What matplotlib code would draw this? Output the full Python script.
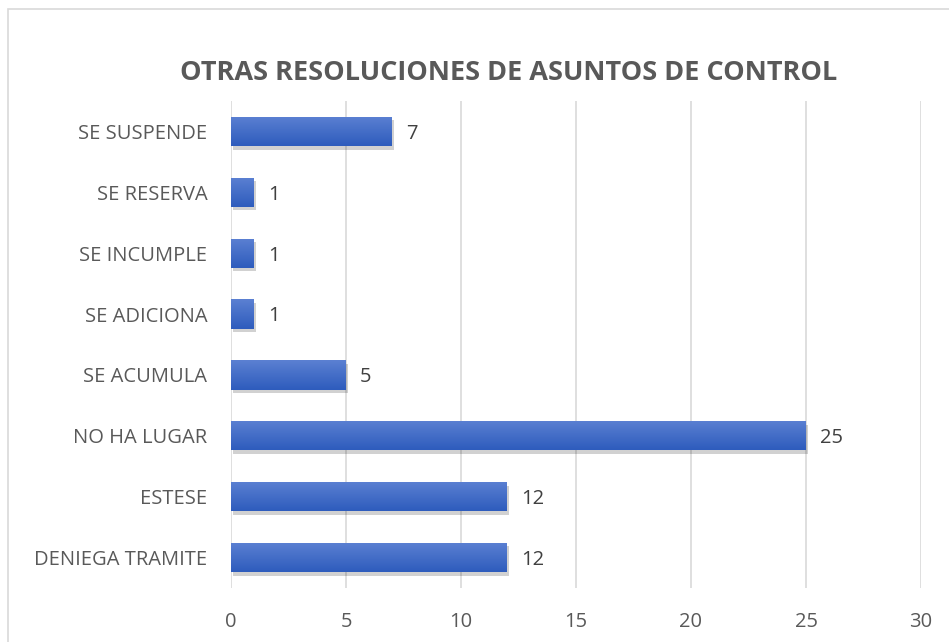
import matplotlib
matplotlib.use("Agg")
import matplotlib.pyplot as plt
import matplotlib.patheffects as pe
from matplotlib.patches import Rectangle
import numpy as np

categorias = ["DENIEGA TRAMITE", "ESTESE", "NO HA LUGAR", "SE ACUMULA",
              "SE ADICIONA", "SE INCUMPLE", "SE RESERVA", "SE SUSPENDE"]
valores = [12, 12, 25, 5, 1, 1, 1, 7]
ticks_x = [0, 5, 10, 15, 20, 25, 30]

plt.rcParams['font.family'] = ['Open Sans', 'DejaVu Sans']

fig = plt.figure(figsize=(9.49, 6.42), dpi=100)
# chart border
fig.patches.append(Rectangle((8 / 949, -0.05), 1.2, (642 - 9) / 642 + 0.05,
                             transform=fig.transFigure, fill=False,
                             edgecolor='#d9d9d9', linewidth=1.2))

ax = fig.add_axes([231 / 949, 1 - 588 / 642, (921 - 231) / 949, (588 - 101) / 642])

y = np.arange(len(categorias))
bars = ax.barh(y, valores, height=0.48, color='#3a66c4', zorder=3,
               path_effects=[pe.SimplePatchShadow(offset=(1.5, -2.5), shadow_rgbFace='#000000', alpha=0.18),
                             pe.Normal()])

# vertical gradient on each bar (lighter on top)
grad = np.linspace(0, 1, 64).reshape(-1, 1)
cmap = matplotlib.colors.LinearSegmentedColormap.from_list('g', ['#5b80d2', '#2e5cbd'])
for b in bars:
    x0, y0 = b.get_x(), b.get_y()
    w, h = b.get_width(), b.get_height()
    im = ax.imshow(grad, extent=(x0, x0 + w, y0, y0 + h), cmap=cmap, aspect='auto', zorder=4)
    im.set_clip_path(b)

for yi, v in zip(y, valores):
    ax.text(v + 0.6, yi - 0.04, str(v), va='center', ha='left', fontsize=14.5, color='#404040')

ax.set_xlim(0, 30)
ax.set_ylim(-0.5, len(categorias) - 0.5)
ax.set_xticks(ticks_x)
ax.set_xticklabels([str(t) for t in ticks_x], fontsize=14.5, color='#595959')
ax.set_yticks(y)
ax.set_yticklabels(categorias, fontsize=14.5, color='#595959')
ax.tick_params(axis='both', length=0)
ax.tick_params(axis='x', pad=17)
ax.tick_params(axis='y', pad=17)
ax.grid(axis='x', color='#d9d9d9', linewidth=1.2, zorder=0)
for s in ax.spines.values():
    s.set_visible(False)

fig.text(509 / 949, 1 - 73 / 642, "OTRAS RESOLUCIONES DE ASUNTOS DE CONTROL",
         ha='center', va='center', fontsize=19.5, fontweight='bold', color='#595959')

fig.savefig("out.png", dpi=100)
